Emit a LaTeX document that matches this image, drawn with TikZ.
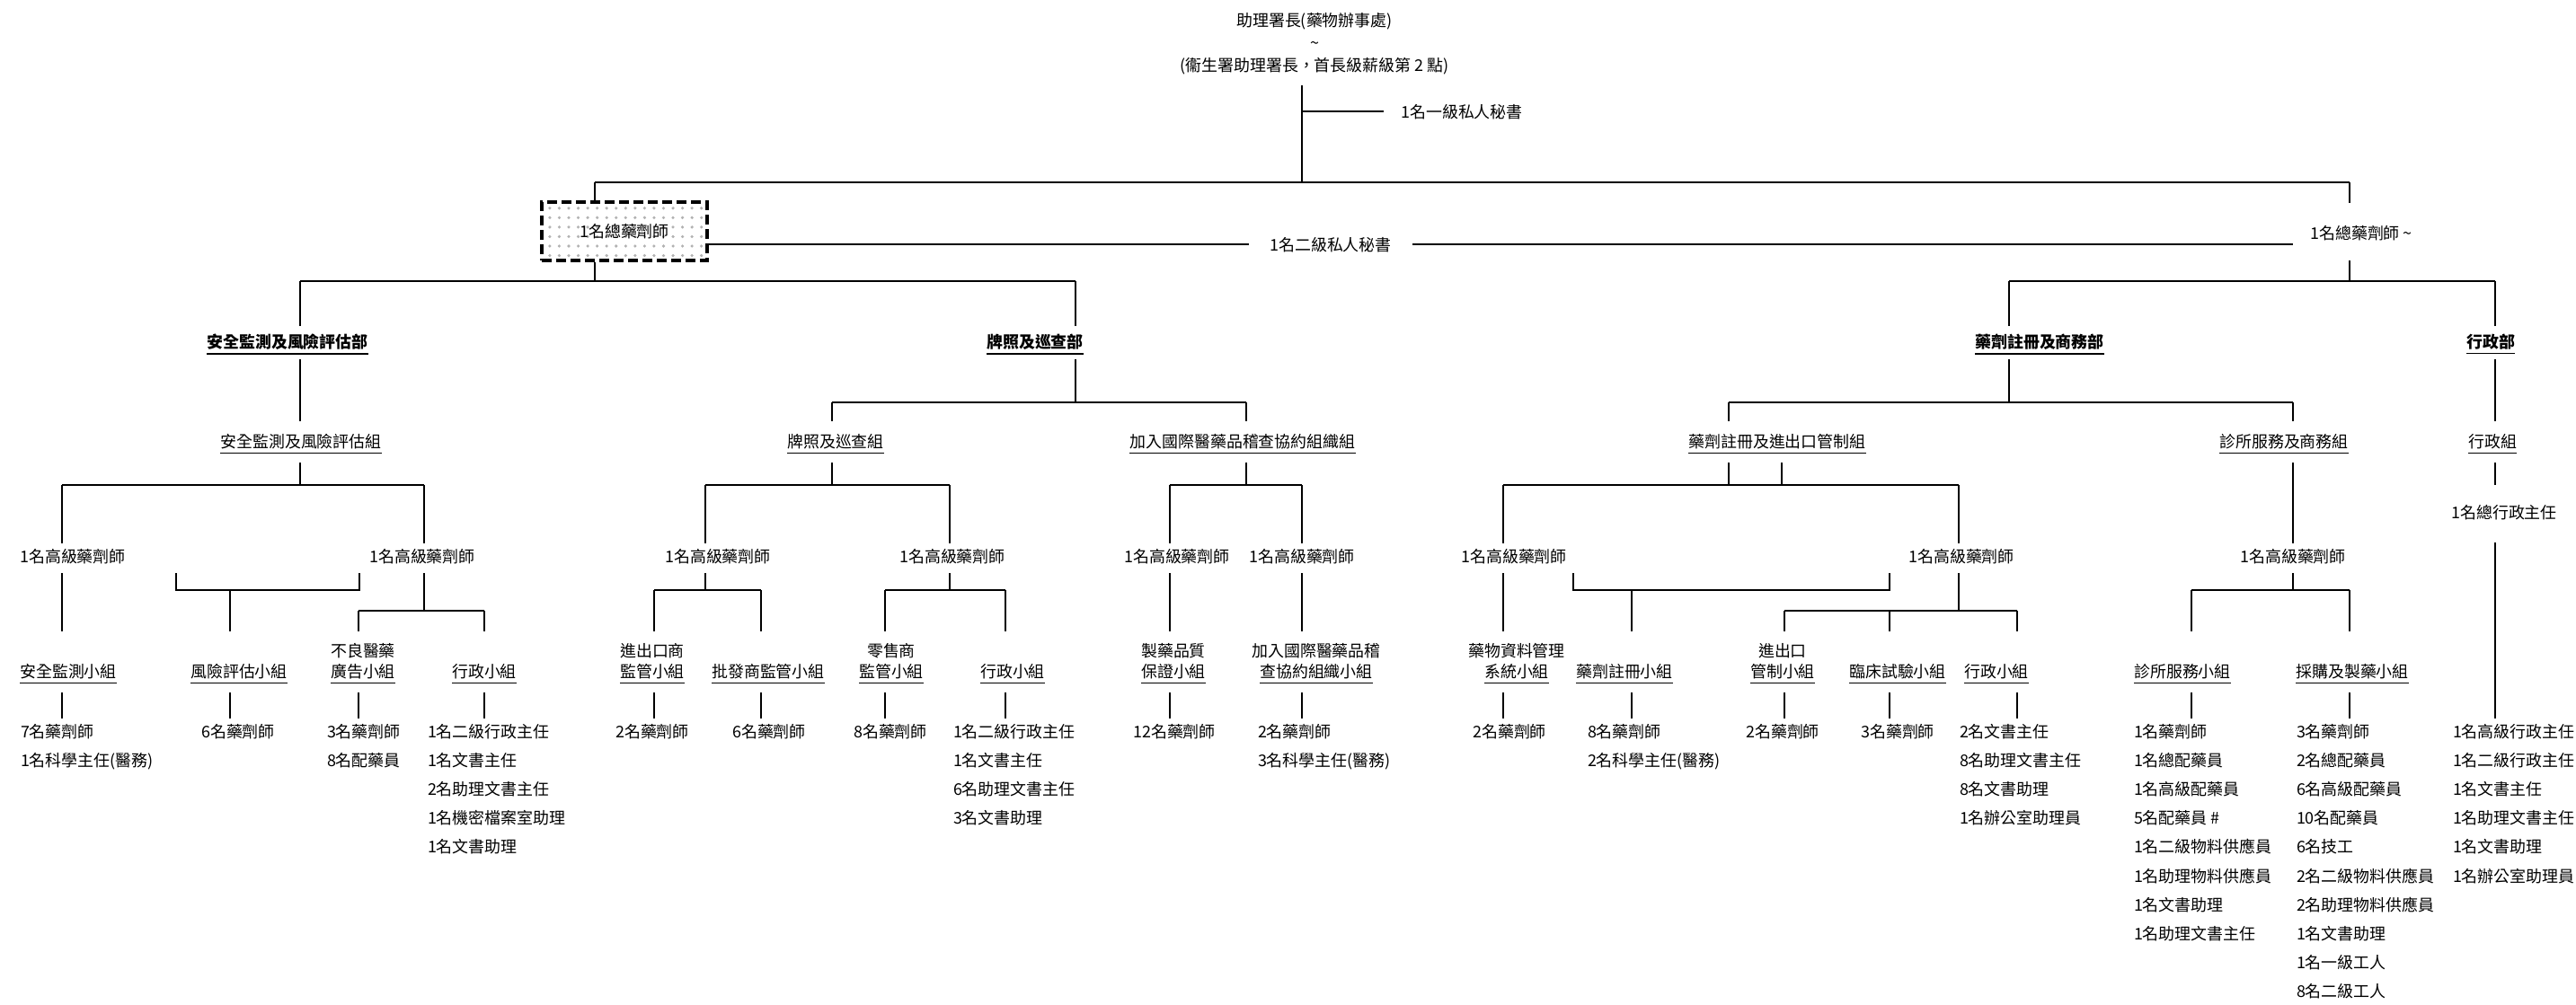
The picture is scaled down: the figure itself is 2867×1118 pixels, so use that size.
\documentclass[tikz,border=0pt]{standalone}
\usepackage{fontspec}
\setmainfont{Noto Sans CJK TC}
\usetikzlibrary{patterns}
\newcommand{\subtwo}[2]{\begin{tabular}[b]{@{}c@{}}#1\\\underline{#2}\end{tabular}}
\newcommand{\stafflist}[1]{\begin{tabular}[t]{@{}l@{}}#1\end{tabular}}

\begin{document}
\begin{tikzpicture}[x=0.01cm, y=-0.01cm, line width=0.7pt,
    font=\fontsize{5.1pt}{6.5pt}\selectfont,
    txt/.style={inner sep=0pt, outer sep=0pt, anchor=base},
    head/.style={txt, text depth=0.16cm, font=\fontsize{5.1pt}{7.1pt}\selectfont},
    chief/.style={draw, line width=1.1pt, dash pattern=on 0.11cm off 0.05cm,
                  pattern=dots, pattern color=black!30,
                  minimum width=1.84cm, minimum height=0.65cm, inner sep=0pt},
    dept/.style={txt, font=\fontsize{5.1pt}{6.5pt}\selectfont\bfseries,
                 text height=0.24cm, text depth=0.13cm},
    grp/.style={txt, text height=0.29cm, text depth=0.17cm},
    sen/.style={txt, text height=0.21cm, text depth=0.12cm},
    sub/.style={txt, text height=0.51cm, text depth=0.17cm},
    staff/.style={txt, anchor=base west, text height=0.21cm,
                  font=\fontsize{5.1pt}{9.16pt}\selectfont},
    staffc/.style={txt, text height=0.21cm}]
  \useasboundingbox (0,0) rectangle (2867,1118);

  % --- head of office ---
  \node[head] (ads) at (1463,79) {\begin{tabular}[b]{@{}c@{}}助理署長(藥物辦事處)\\\textasciitilde\\(衞生署助理署長，首長級薪級第 2 點)\end{tabular}};
  \node[txt, outer xsep=0.19cm] (ps1) at (1627,131) {1名一級私人秘書};
  \coordinate (sp) at (1449,203);
  \coordinate (jL) at (662,203);
  \coordinate (jR) at (2615,203);
  \draw (ads.south -| sp) -- (sp);
  \draw (ps1.west -| sp) -- (ps1.west);
  \draw (jL) -- (jR);

  % --- chief pharmacists and secretary ---
  \node[chief] (cp1) at (695,257.5) {1名總藥劑師};
  \node[txt, text height=0.40cm, text depth=0.24cm, outer xsep=0.19cm] (cp2) at (2628,266) {1名總藥劑師 \textasciitilde};
  \node[txt, outer xsep=0.23cm] (ps2) at (1481,279) {1名二級私人秘書};
  \draw (jL) -- (cp1.north -| jL);
  \draw (jR) -- (cp2.north -| jR);
  \draw (cp1.east |- ps2.west) -- (ps2.west);
  \draw (ps2.east) -- (ps2.east -| cp2.west);
  \coordinate (bL) at (662,313);
  \coordinate (bR) at (2615,313);
  \draw (cp1.south -| jL) -- (bL);
  \draw (cp2.south -| jR) -- (bR);
  \coordinate (dbL1) at (334,313);
  \coordinate (dbL2) at (1197,313);
  \coordinate (dbR1) at (2236,313);
  \coordinate (dbR2) at (2777,313);
  \draw (dbL1) -- (dbL2);
  \draw (dbR1) -- (dbR2);

  % --- departments ---
  \node[dept] (dsafe) at (320,387) {\underline{安全監測及風險評估部}};
  \node[dept] (dlic) at (1152,387) {\underline{牌照及巡查部}};
  \node[dept] (dreg) at (2270,387) {\underline{藥劑註冊及商務部}};
  \node[dept] (dadm) at (2772,387) {\underline{行政部}};
  \draw (dbL1) -- (dbL1 |- dsafe.north);
  \draw (dbL2) -- (dbL2 |- dlic.north);
  \draw (dbR1) -- (dbR1 |- dreg.north);
  \draw (dbR2) -- (dbR2 |- dadm.north);

  % --- divisions ---
  \node[grp] (gsafe) at (335,498) {\underline{安全監測及風險評估組}};
  \node[grp] (glic) at (930,498) {\underline{牌照及巡查組}};
  \node[grp] (gpic) at (1383,498) {\underline{加入國際醫藥品稽查協約組織組}};
  \node[grp] (greg) at (1978,498) {\underline{藥劑註冊及進出口管制組}};
  \node[grp] (gcs) at (2542,498) {\underline{診所服務及商務組}};
  \node[grp] (gadm) at (2774,498) {\underline{行政組}};
  \coordinate (lb1) at (926,448);
  \coordinate (lb2) at (1197,448);
  \coordinate (lb3) at (1387,448);
  \coordinate (rb1) at (1924,448);
  \coordinate (rb2) at (2236,448);
  \coordinate (rb3) at (2552,448);
  \draw (dsafe.south -| dbL1) -- (gsafe.north -| dbL1);
  \draw (dlic.south -| lb2) -- (lb2);
  \draw (lb1) -- (lb3);
  \draw (lb1) -- (glic.north -| lb1);
  \draw (lb3) -- (gpic.north -| lb3);
  \draw (dreg.south -| rb2) -- (rb2);
  \draw (rb1) -- (rb3);
  \draw (rb1) -- (greg.north -| rb1);
  \draw (rb3) -- (gcs.north -| rb3);
  \draw (dadm.south -| dbR2) -- (gadm.north -| dbR2);

  % --- senior pharmacists ---
  \node[sen] (s1) at (81,626) {1名高級藥劑師};
  \node[sen] (s2) at (470,626) {1名高級藥劑師};
  \node[sen] (s3) at (799,626) {1名高級藥劑師};
  \node[sen] (s4) at (1060,626) {1名高級藥劑師};
  \node[sen] (s5) at (1310,626) {1名高級藥劑師};
  \node[sen] (s6) at (1449,626) {1名高級藥劑師};
  \node[sen] (s7) at (1685,626) {1名高級藥劑師};
  \node[sen] (s8) at (2183,626) {1名高級藥劑師};
  \node[sen] (s9) at (2552,626) {1名高級藥劑師};
  \node[txt, text height=0.37cm, text depth=0.27cm] (h1) at (2787,577) {1名總行政主任};
  \coordinate (sb1) at (69,540);
  \coordinate (sb2) at (472,540);
  \coordinate (sb3) at (785,540);
  \coordinate (sb4) at (1057,540);
  \coordinate (sb5) at (1302,540);
  \coordinate (sb6) at (1449,540);
  \coordinate (sb7) at (1673,540);
  \coordinate (sb8) at (2180,540);
  \coordinate (gx) at (1983,540);
  \draw (gsafe.south -| dbL1) -- (sb1 -| dbL1);
  \draw (sb1) -- (sb2);
  \draw (sb1) -- (s1.north -| sb1);
  \draw (sb2) -- (s2.north -| sb2);
  \draw (glic.south -| lb1) -- (sb3 -| lb1);
  \draw (sb3) -- (sb4);
  \draw (sb3) -- (s3.north -| sb3);
  \draw (sb4) -- (s4.north -| sb4);
  \draw (gpic.south -| lb3) -- (sb5 -| lb3);
  \draw (sb5) -- (sb6);
  \draw (sb5) -- (s5.north -| sb5);
  \draw (sb6) -- (s6.north -| sb6);
  \draw (greg.south -| rb1) -- (sb7 -| rb1);
  \draw (greg.south -| gx) -- (gx);
  \draw (sb7) -- (sb8);
  \draw (sb7) -- (s7.north -| sb7);
  \draw (sb8) -- (s8.north -| sb8);
  \draw (gcs.south -| rb3) -- (s9.north -| rb3);
  \draw (gadm.south -| dbR2) -- (h1.north -| dbR2);

  % --- sections ---
  \node[sub] (u1) at (76,754) {\underline{安全監測小組}};
  \node[sub] (u2) at (266,754) {\underline{風險評估小組}};
  \node[sub] (u3) at (404,754) {\subtwo{不良醫藥}{廣告小組}};
  \node[sub] (u4) at (539,754) {\underline{行政小組}};
  \node[sub] (u5) at (726,754) {\subtwo{進出口商}{監管小組}};
  \node[sub] (u6) at (855,754) {\underline{批發商監管小組}};
  \node[sub] (u7) at (992,754) {\subtwo{零售商}{監管小組}};
  \node[sub] (u8) at (1127,754) {\underline{行政小組}};
  \node[sub] (u9) at (1306,754) {\subtwo{製藥品質}{保證小組}};
  \node[sub] (u10) at (1465,754) {\subtwo{加入國際醫藥品稽}{查協約組織小組}};
  \node[sub] (u11) at (1688,754) {\subtwo{藥物資料管理}{系統小組}};
  \node[sub] (u12) at (1808,754) {\underline{藥劑註冊小組}};
  \node[sub] (u13) at (1984,754) {\subtwo{進出口}{管制小組}};
  \node[sub] (u14) at (2112,754) {\underline{臨床試驗小組}};
  \node[sub] (u15) at (2222,754) {\underline{行政小組}};
  \node[sub] (u16) at (2429,754) {\underline{診所服務小組}};
  \node[sub] (u17) at (2618,754) {\underline{採購及製藥小組}};
  % left brackets
  \coordinate (k1) at (196,657);
  \coordinate (k2) at (400,657);
  \coordinate (kd) at (256,657);
  \coordinate (k3) at (472,680);
  \coordinate (k4) at (399,680);
  \coordinate (k5) at (539,680);
  \draw (s1.south -| sb1) -- (u1.north -| sb1);
  \draw (s1.south -| k1) -- (k1) -- (k2) -- (s2.south -| k2);
  \draw (kd) -- (u2.north -| kd);
  \draw (s2.south -| sb2) -- (k3);
  \draw (k4) -- (k5);
  \draw (k4) -- (u3.north -| k4);
  \draw (k5) -- (u4.north -| k5);
  % licensing brackets
  \coordinate (c1) at (785,657);
  \coordinate (c2) at (728,657);
  \coordinate (c3) at (847,657);
  \coordinate (d1) at (1057,657);
  \coordinate (d2) at (985,657);
  \coordinate (d3) at (1119,657);
  \draw (s3.south -| sb3) -- (c1);
  \draw (c2) -- (c3);
  \draw (c2) -- (u5.north -| c2);
  \draw (c3) -- (u6.north -| c3);
  \draw (s4.south -| sb4) -- (d1);
  \draw (d2) -- (d3);
  \draw (d2) -- (u7.north -| d2);
  \draw (d3) -- (u8.north -| d3);
  \draw (s5.south -| sb5) -- (u9.north -| sb5);
  \draw (s6.south -| sb6) -- (u10.north -| sb6);
  % registration brackets
  \coordinate (e1) at (1751,657);
  \coordinate (e2) at (2103,657);
  \coordinate (e3) at (1816,657);
  \coordinate (f1) at (2180,680);
  \coordinate (f2) at (1986,680);
  \coordinate (f3) at (2245,680);
  \coordinate (f4) at (2103,680);
  \draw (s7.south -| sb7) -- (u11.north -| sb7);
  \draw (s7.south -| e1) -- (e1) -- (e2) -- (s8.south -| e2);
  \draw (e3) -- (u12.north -| e3);
  \draw (s8.south -| sb8) -- (f1);
  \draw (f2) -- (f3);
  \draw (f2) -- (u13.north -| f2);
  \draw (f4) -- (u14.north -| f4);
  \draw (f3) -- (u15.north -| f3);
  % clinic brackets
  \coordinate (g1) at (2552,657);
  \coordinate (g2) at (2439,657);
  \coordinate (g3) at (2615,657);
  \draw (s9.south -| g1) -- (g1);
  \draw (g2) -- (g3);
  \draw (g2) -- (u16.north -| g2);
  \draw (g3) -- (u17.north -| g3);

  % --- staff ---
  \node[staff] (t1) at (23,821) {\stafflist{7名藥劑師\\1名科學主任(醫務)}};
  \node[staffc] (t2) at (265,821) {6名藥劑師};
  \node[staff] (t3) at (364,821) {\stafflist{3名藥劑師\\8名配藥員}};
  \node[staff] (t4) at (476,821) {\stafflist{1名二級行政主任\\1名文書主任\\2名助理文書主任\\1名機密檔案室助理\\1名文書助理}};
  \node[staffc] (t5) at (726,821) {2名藥劑師};
  \node[staffc] (t6) at (856,821) {6名藥劑師};
  \node[staffc] (t7) at (991,821) {8名藥劑師};
  \node[staff] (t8) at (1061,821) {\stafflist{1名二級行政主任\\1名文書主任\\6名助理文書主任\\3名文書助理}};
  \node[staffc] (t9) at (1307,821) {12名藥劑師};
  \node[staff] (t10) at (1400,821) {\stafflist{2名藥劑師\\3名科學主任(醫務)}};
  \node[staffc] (t11) at (1680,821) {2名藥劑師};
  \node[staff] (t12) at (1767,821) {\stafflist{8名藥劑師\\2名科學主任(醫務)}};
  \node[staffc] (t13) at (1984,821) {2名藥劑師};
  \node[staffc] (t14) at (2112,821) {3名藥劑師};
  \node[staff] (t15) at (2181,821) {\stafflist{2名文書主任\\8名助理文書主任\\8名文書助理\\1名辦公室助理員}};
  \node[staff] (t16) at (2375,821) {\stafflist{1名藥劑師\\1名總配藥員\\1名高級配藥員\\5名配藥員 \#\\1名二級物料供應員\\1名助理物料供應員\\1名文書助理\\1名助理文書主任}};
  \node[staff] (t17) at (2556,821) {\stafflist{3名藥劑師\\2名總配藥員\\6名高級配藥員\\10名配藥員\\6名技工\\2名二級物料供應員\\2名助理物料供應員\\1名文書助理\\1名一級工人\\8名二級工人}};
  \node[staff] (t18) at (2730,821) {\stafflist{1名高級行政主任\\1名二級行政主任\\1名文書主任\\1名助理文書主任\\1名文書助理\\1名辦公室助理員}};
  \draw (u1.south -| sb1) -- (t1.north -| sb1);
  \draw (u2.south -| kd) -- (t2.north -| kd);
  \draw (u3.south -| k4) -- (t3.north -| k4);
  \draw (u4.south -| k5) -- (t4.north -| k5);
  \draw (u5.south -| c2) -- (t5.north -| c2);
  \draw (u6.south -| c3) -- (t6.north -| c3);
  \draw (u7.south -| d2) -- (t7.north -| d2);
  \draw (u8.south -| d3) -- (t8.north -| d3);
  \draw (u9.south -| sb5) -- (t9.north -| sb5);
  \draw (u10.south -| sb6) -- (t10.north -| sb6);
  \draw (u11.south -| sb7) -- (t11.north -| sb7);
  \draw (u12.south -| e3) -- (t12.north -| e3);
  \draw (u13.south -| f2) -- (t13.north -| f2);
  \draw (u14.south -| f4) -- (t14.north -| f4);
  \draw (u15.south -| f3) -- (t15.north -| f3);
  \draw (u16.south -| g2) -- (t16.north -| g2);
  \draw (u17.south -| g3) -- (t17.north -| g3);
  \draw (h1.south -| dbR2) -- (t18.north -| dbR2);
\end{tikzpicture}
\end{document}
